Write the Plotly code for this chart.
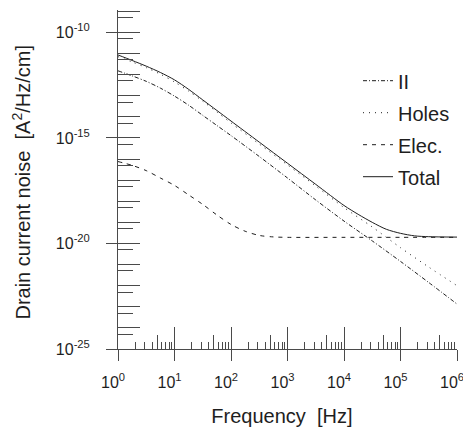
import plotly.graph_objects as go

# ---------------- data ----------------
freq_hz = [1, 1.778, 3.162, 5.623, 10, 17.78, 31.62, 56.23, 100, 316.2, 1000, 3162,
           1e4, 31623, 1e5, 316228, 1e6]
ii_noise = [1.51e-12, 8.71e-13, 4.79e-13, 2.29e-13, 9.55e-14, 3.55e-14, 1.17e-14,
            3.89e-15, 1.29e-15, 1.32e-16, 1.26e-17, 1.15e-18, 1.15e-19, 1.32e-20,
            1.41e-21, 1.41e-22, 1.35e-23]
holes_noise = [7.08e-12, 3.98e-12, 2.14e-12, 1.05e-12, 4.47e-13, 1.66e-13, 5.50e-14,
               1.70e-14, 5.13e-15, 5.13e-16, 5.25e-17, 5.25e-18, 5.01e-19, 6.03e-20,
               6.31e-21, 7.59e-22, 1.00e-22]

elec_freq_hz = [1, 1.778, 3.162, 5.623, 10, 17.78, 31.62, 56.23, 100, 177.8, 316.2,
                562.3, 1000, 1e4, 1e5, 1e6]
elec_noise = [7.59e-17, 5.01e-17, 2.82e-17, 1.26e-17, 5.62e-18, 2.00e-18, 7.08e-19,
              2.24e-19, 7.94e-20, 3.80e-20, 2.40e-20, 2.04e-20, 1.95e-20, 1.95e-20,
              1.95e-20, 1.95e-20]

total_freq_hz = [1, 1.778, 3.162, 5.623, 10, 17.78, 31.62, 56.23, 100, 316.2, 1000,
                 3162, 1e4, 17783, 31623, 56234, 1e5, 177828, 316228, 1e6]
total_noise = [8.51e-12, 4.68e-12, 2.51e-12, 1.26e-12, 5.62e-13, 2.00e-13, 6.31e-14,
               2.00e-14, 6.31e-15, 6.31e-16, 6.31e-17, 6.31e-18, 6.31e-19, 2.40e-19,
               1.00e-19, 4.68e-20, 3.02e-20, 2.29e-20, 2.09e-20, 2.00e-20]

series_names = ["II", "Holes", "Elec.", "Total"]

x_tick_vals = [1, 10, 100, 1e3, 1e4, 1e5, 1e6]
x_tick_text = ["10<sup>0</sup>", "10<sup>1</sup>", "10<sup>2</sup>", "10<sup>3</sup>",
               "10<sup>4</sup>", "10<sup>5</sup>", "10<sup>6</sup>"]
y_tick_vals = [1e-25, 1e-20, 1e-15, 1e-10]
y_tick_text = ["10<sup>-25</sup>", "10<sup>-20</sup>", "10<sup>-15</sup>", "10<sup>-10</sup>"]

x_title = "Frequency&nbsp;&nbsp;[Hz]&nbsp;&nbsp;"
y_title = "Drain current noise&nbsp;&nbsp;[A<sup>2</sup>/Hz/cm]&nbsp;"

# ---------------- styling ----------------
FONT = "Liberation Sans, Arial, Helvetica, sans-serif"
INK = "#1e1e1e"
AXC = "#4a4a4a"

# tick positions (axis decoration)
x_decades = [10.0 ** k for k in range(0, 7)]
x_minor_five = [5 * 10.0 ** k for k in range(0, 6)]
x_minor_small = [m * 10.0 ** k for k in range(0, 6) for m in (2, 3, 4, 6, 7, 8, 9)]
y_decades = [10.0 ** k for k in range(-25, -8)]
y_half = [5 * 10.0 ** k for k in range(-25, -9)]

fig = go.Figure()
dashes = ["4px,2px,1px,2px", "1px,5px", "4px,5px", "solid"]
xs = [freq_hz, freq_hz, elec_freq_hz, total_freq_hz]
ys = [ii_noise, holes_noise, elec_noise, total_noise]
for i, name in enumerate(series_names):
    fig.add_trace(go.Scatter(
        x=xs[i], y=ys[i], name=name, mode="lines",
        line=dict(color=INK, width=1, dash=dashes[i], shape="spline", smoothing=0.8),
        legendgroup="g%d" % i, hoverinfo="x+y+name"))

# empty trace carrying the overlay tick axes
fig.add_trace(go.Scatter(x=[], y=[], xaxis="x2", yaxis="y2", showlegend=False,
                         hoverinfo="skip"))

axis_common = dict(showgrid=False, zeroline=False, tickcolor=AXC, tickwidth=1,
                   automargin=False)

fig.update_layout(
    width=463, height=420,
    margin=dict(l=110, r=14, t=2, b=79, autoexpand=False),
    paper_bgcolor="white", plot_bgcolor="white",
    font=dict(family=FONT, color=INK, size=16),
    xaxis=dict(type="log", range=[0, 6], showline=True, linecolor=AXC, linewidth=1,
               ticks="outside", ticklen=11, tickmode="array", tickvals=x_tick_vals,
               ticktext=x_tick_text, tickfont=dict(size=16, color=INK),
               ticklabelstandoff=8, ticklabelshift=-5, ticklabeloverflow="allow",
               minor=dict(tickmode="array", tickvals=x_minor_small, ticks="inside",
                          ticklen=7, tickcolor=AXC, tickwidth=1),
               title=dict(text=x_title, font=dict(size=20, color=INK), standoff=18),
               **axis_common),
    yaxis=dict(type="log", range=[-25, -8.94], showline=True, linecolor=AXC, linewidth=1,
               ticks="outside", ticklen=11, tickmode="array", tickvals=y_tick_vals,
               ticktext=y_tick_text, tickfont=dict(size=16, color=INK),
               ticklabelstandoff=13, ticklabeloverflow="allow",
               title=dict(text=y_title, font=dict(size=20, color=INK), standoff=19),
               **axis_common),
    xaxis2=dict(type="log", range=[0, 6], overlaying="x", anchor="y2", side="bottom",
                showline=False, ticks="inside", ticklen=22, tickmode="array",
                tickvals=x_decades, showticklabels=False,
                minor=dict(tickmode="array", tickvals=x_minor_five, ticks="inside",
                           ticklen=14, tickcolor=AXC, tickwidth=1),
                **axis_common),
    yaxis2=dict(type="log", range=[-25, -8.94], overlaying="y", anchor="x2", side="left",
                showline=False, ticks="inside", ticklen=22, tickmode="array",
                tickvals=y_decades, showticklabels=False,
                minor=dict(tickmode="array", tickvals=y_half, ticks="inside",
                           ticklen=15, tickcolor=AXC, tickwidth=1),
                **axis_common),
    showlegend=True,
    legend=dict(x=0.708, y=0.849, xanchor="left", yanchor="top",
                font=dict(size=20, color=INK), bgcolor="rgba(0,0,0,0)",
                borderwidth=0, tracegroupgap=3, itemwidth=30),
)

fig.write_html("out.html")
